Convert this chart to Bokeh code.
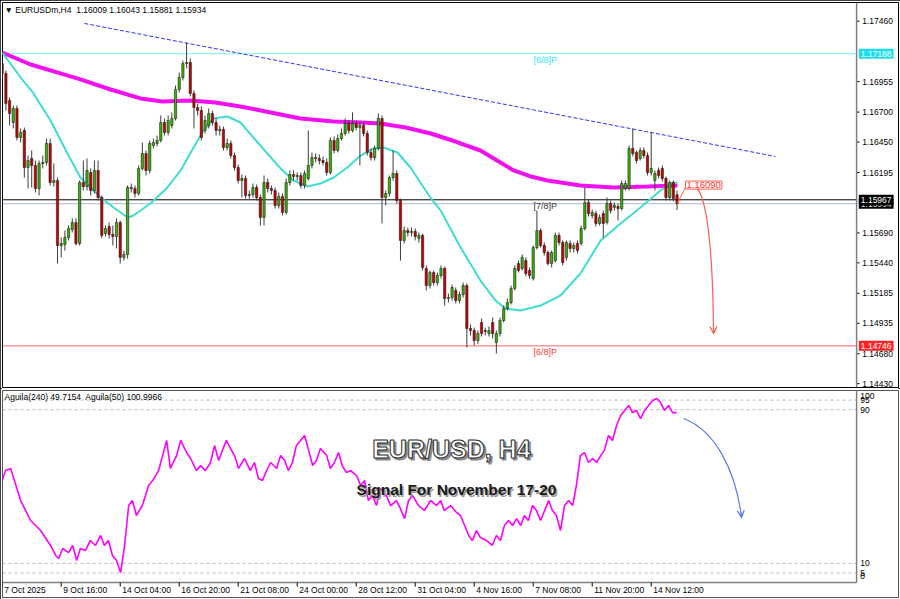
from bokeh.plotting import figure
from bokeh.layouts import column
from bokeh.models import (Range1d, Label, ColumnDataSource, Arrow, OpenHead, Span)
from bokeh.core.properties import value
from bokeh.embed import file_html
from bokeh.resources import INLINE

FONT = "Liberation Sans"

# ---------------- data ----------------
header_text = "\u25bc EURUSDm,H4\u00a0 1.16009 1.16043 1.15881 1.15934"
ind_header = "Aguila(240) 49.7154\u00a0 Aguila(50) 100.9966"

opens = [1.17106,1.17023,1.16797,1.16613,1.16730,1.16488,1.16546,1.16237,1.16312,1.16254,
         1.16061,1.16270,1.16279,1.16438,1.16112,1.16128,1.15585,1.15593,1.15652,1.15719,
         1.15777,1.15602,1.16112,1.16078,1.16195,1.16045,1.16212,1.15986,1.15685,1.15744,
         1.15677,1.15660,1.15777,1.15485,1.15510,1.16070,1.16061,1.16020,1.16229,1.16354,
         1.16212,1.16421,1.16438,1.16463,1.16613,1.16530,1.16588,1.16647,1.16889,1.16989,
         1.17106,1.17115,1.16856,1.16738,1.16713,1.16546,1.16588,1.16688,1.16613,1.16546,
         1.16555,1.16404,1.16438,1.16337,1.16237,1.16128,1.16145,1.16003,1.16011,1.16070,
         1.15986,1.15819,1.16112,1.16061,1.16045,1.15919,1.15994,1.15861,1.16112,1.16178,
         1.16162,1.16170,1.16087,1.16145,1.16254,1.16320,1.16312,1.16295,1.16279,1.16195,
         1.16463,1.16379,1.16479,1.16521,1.16605,1.16546,1.16605,1.16571,1.16588,1.16521,
         1.16362,1.16320,1.16396,1.16647,1.15986,1.16020,1.16153,1.16187,1.15961,1.15627,
         1.15710,1.15693,1.15702,1.15644,1.15669,1.15393,1.15250,1.15359,1.15275,1.15334,
         1.15393,1.15142,1.15150,1.15209,1.15125,1.15175,1.15250,1.14891,1.14874,1.14791,
         1.14941,1.14874,1.14849,1.14941,1.14774,1.14849,1.14958,1.15058,1.15108,1.15225,
         1.15434,1.15393,1.15459,1.15376,1.15309,1.15568,1.15710,1.15585,1.15526,1.15434,
         1.15459,1.15669,1.15610,1.15485,1.15602,1.15560,1.15602,1.15602,1.15727,1.15944,
         1.15836,1.15852,1.15769,1.15852,1.15777,1.15936,1.15903,1.15911,1.15894,1.16061,
         1.16061,1.16396,1.16362,1.16312,1.16379,1.16337,1.16195,1.16128,1.16212,1.16229,
         1.16145,1.15986,1.16112,1.16009]
highs = [1.17148,1.17048,1.16822,1.16755,1.16755,1.16563,1.16571,1.16337,1.16379,1.16295,
         1.16295,1.16337,1.16479,1.16479,1.16270,1.16153,1.15652,1.15710,1.15752,1.15811,
         1.15811,1.16128,1.16295,1.16312,1.16229,1.16295,1.16295,1.16003,1.15752,1.15777,
         1.15752,1.15811,1.15794,1.15543,1.16087,1.16103,1.16087,1.16254,1.16446,1.16379,
         1.16463,1.16479,1.16504,1.16672,1.16647,1.16672,1.16697,1.16922,1.17031,1.17131,
         1.17282,1.17148,1.16881,1.16772,1.16747,1.16672,1.16730,1.16713,1.16647,1.16588,
         1.16580,1.16479,1.16463,1.16362,1.16262,1.16178,1.16170,1.16045,1.16103,1.16095,
         1.16011,1.16170,1.16145,1.16087,1.16070,1.16028,1.16020,1.16145,1.16212,1.16212,
         1.16195,1.16195,1.16212,1.16546,1.16362,1.16354,1.16346,1.16329,1.16312,1.16488,
         1.16496,1.16513,1.16563,1.16647,1.16630,1.16697,1.16630,1.16613,1.16613,1.16546,
         1.16396,1.16421,1.16688,1.16672,1.16045,1.16170,1.16379,1.16212,1.15977,1.15744,
         1.15735,1.15735,1.15727,1.15693,1.15685,1.15418,1.15376,1.15376,1.15359,1.15418,
         1.15409,1.15184,1.15259,1.15234,1.15200,1.15275,1.15267,1.14924,1.14899,1.14874,
         1.14975,1.14899,1.14908,1.14983,1.14874,1.14983,1.15083,1.15142,1.15250,1.15418,
         1.15459,1.15510,1.15485,1.15401,1.15585,1.15877,1.15727,1.15610,1.15543,1.15543,
         1.15693,1.15693,1.15627,1.15627,1.15627,1.15610,1.15627,1.15752,1.16070,1.15969,
         1.15886,1.15877,1.15844,1.15877,1.15986,1.15961,1.15944,1.15936,1.16128,1.16128,
         1.16421,1.16563,1.16379,1.16404,1.16404,1.16362,1.16530,1.16212,1.16237,1.16254,
         1.16162,1.16128,1.16128,1.16043]
lows = [1.16964,1.16713,1.16588,1.16563,1.16463,1.16446,1.16153,1.16061,1.16070,1.16028,
        1.16003,1.16229,1.16254,1.16087,1.16078,1.15434,1.15485,1.15543,1.15627,1.15693,
        1.15585,1.15585,1.16045,1.16045,1.16003,1.16020,1.15961,1.15644,1.15660,1.15644,
        1.15585,1.15560,1.15434,1.15459,1.15476,1.16028,1.15986,1.16003,1.16212,1.16170,
        1.16187,1.16396,1.16412,1.16446,1.16504,1.16504,1.16563,1.16630,1.16864,1.16964,
        1.17065,1.16830,1.16563,1.16672,1.16463,1.16521,1.16563,1.16588,1.16504,1.16504,
        1.16379,1.16379,1.16312,1.16212,1.16103,1.15986,1.15977,1.15977,1.15986,1.15961,
        1.15752,1.15752,1.16028,1.16011,1.15894,1.15894,1.15836,1.15844,1.16087,1.16128,
        1.16128,1.16061,1.16061,1.16128,1.16229,1.16279,1.16262,1.16254,1.16170,1.16178,
        1.16354,1.16362,1.16463,1.16504,1.16521,1.16530,1.16546,1.16254,1.16496,1.16337,
        1.16295,1.16295,1.16379,1.15769,1.15919,1.15994,1.16128,1.15936,1.15459,1.15602,
        1.15660,1.15660,1.15627,1.15610,1.15376,1.15209,1.15225,1.15250,1.15250,1.15309,
        1.15083,1.15108,1.15125,1.15100,1.15100,1.15150,1.14732,1.14833,1.14749,1.14763,
        1.14824,1.14833,1.14824,1.14807,1.14682,1.14824,1.14941,1.15041,1.15092,1.15209,
        1.15359,1.15376,1.15326,1.15309,1.15292,1.15551,1.15568,1.15501,1.15418,1.15401,
        1.15443,1.15585,1.15418,1.15459,1.15526,1.15526,1.15518,1.15585,1.15710,1.15827,
        1.15811,1.15744,1.15752,1.15652,1.15760,1.15852,1.15877,1.15794,1.15877,1.16045,
        1.16045,1.16329,1.16270,1.16295,1.16312,1.16170,1.16170,1.16045,1.16145,1.16120,
        1.15961,1.15961,1.15953,1.15881]
closes = [1.17023,1.16772,1.16688,1.16730,1.16488,1.16530,1.16237,1.16295,1.16254,1.16061,
          1.16270,1.16279,1.16438,1.16112,1.16128,1.15585,1.15602,1.15652,1.15727,1.15777,
          1.15602,1.16112,1.16078,1.16212,1.16045,1.16212,1.15986,1.15669,1.15727,1.15677,
          1.15660,1.15777,1.15485,1.15510,1.16070,1.16061,1.16020,1.16229,1.16354,1.16212,
          1.16438,1.16446,1.16463,1.16613,1.16530,1.16630,1.16647,1.16889,1.16989,1.17106,
          1.17115,1.16856,1.16738,1.16713,1.16488,1.16630,1.16688,1.16613,1.16546,1.16555,
          1.16404,1.16438,1.16337,1.16237,1.16128,1.16145,1.16003,1.16011,1.16070,1.15986,
          1.15819,1.16112,1.16061,1.16045,1.15919,1.15994,1.15861,1.16112,1.16178,1.16162,
          1.16170,1.16087,1.16187,1.16254,1.16320,1.16312,1.16295,1.16279,1.16195,1.16463,
          1.16379,1.16479,1.16521,1.16605,1.16546,1.16605,1.16571,1.16588,1.16521,1.16362,
          1.16320,1.16396,1.16647,1.15986,1.16020,1.16153,1.16187,1.15961,1.15627,1.15710,
          1.15693,1.15702,1.15660,1.15669,1.15401,1.15250,1.15359,1.15275,1.15334,1.15393,
          1.15142,1.15150,1.15234,1.15125,1.15175,1.15250,1.14891,1.14874,1.14791,1.14849,
          1.14849,1.14866,1.14874,1.14849,1.14849,1.14958,1.15058,1.15108,1.15225,1.15393,
          1.15376,1.15485,1.15351,1.15334,1.15568,1.15710,1.15585,1.15526,1.15434,1.15526,
          1.15669,1.15610,1.15443,1.15610,1.15560,1.15585,1.15543,1.15727,1.15944,1.15852,
          1.15861,1.15769,1.15819,1.15769,1.15936,1.15877,1.15919,1.15894,1.16103,1.16103,
          1.16396,1.16354,1.16295,1.16379,1.16337,1.16195,1.16229,1.16187,1.16170,1.16145,
          1.15986,1.16112,1.15977,1.15934]

ma_slow_idx = [0, 7.7, 15.8, 21.2, 29.4, 37.5, 43.4, 51.1, 57.8, 64.6, 72.8, 80.9, 89.9, 97.2,
               102.6, 109.4, 116.2, 122.9, 129.7, 135.1, 138.7, 143.3, 147.9, 156.8, 165.8, 175, 183.1]
ma_slow_val = [1.17198, 1.17098, 1.17023, 1.16973, 1.16889, 1.16814, 1.16789, 1.16797, 1.16780,
               1.16747, 1.16697, 1.16647, 1.16622, 1.16613, 1.16605, 1.16571, 1.16521, 1.16454,
               1.16379, 1.16279, 1.16212, 1.16162, 1.16128, 1.16087, 1.16070, 1.16078, 1.16087]
ma_fast_idx = [0, 5, 8.5, 13.1, 17.7, 21.2, 26.7, 30.2, 34, 35.6, 40.2, 44.8, 48.4, 51.9, 54.6, 57.3,
               61.1, 64.6, 68.1, 71.9, 75.5, 79, 82.8, 86.3, 89.9, 93.6, 97.2, 100.7, 103.4, 107.2,
               110.7, 114.3, 116.1, 118.9, 124.3, 129.7, 133.8, 136.5, 140.6, 146, 151.4, 156.8,
               162.3, 167.7, 173.1, 178.5, 181.2, 183.1]
ma_fast_val = [1.17198, 1.16989, 1.16856, 1.16630, 1.16354, 1.16153, 1.15986, 1.15903, 1.15819,
               1.15836, 1.15936, 1.16070, 1.16212, 1.16404, 1.16546, 1.16647, 1.16663, 1.16613,
               1.16488, 1.16354, 1.16229, 1.16128, 1.16078, 1.16103, 1.16153, 1.16237, 1.16337,
               1.16396, 1.16404, 1.16362, 1.16237, 1.16070, 1.15986, 1.15877, 1.15568, 1.15292,
               1.15125, 1.15058, 1.15041, 1.15083, 1.15167, 1.15351, 1.15627, 1.15769, 1.15903,
               1.16045, 1.16103, 1.16112]

trend_idx = [22.3, 209.7]
trend_val = [1.17441, 1.16329]

murrey_levels = [1.17188, 1.15967, 1.14746]
murrey_names = ["[8/8]P", "[7/8]P", "[6/8]P"]
murrey_text_colors = ["#33e6f0", "#333333", "#ff3b3b"]
murrey_line_colors = ["#7ff4f8", "#000000", "#ff6666"]
murrey_box_colors = ["#1fdcec", "#000000", "#ff2222"]
murrey_label_idx = 144.1
bid_price = 1.15934

price_ticks = [1.17460, 1.16955, 1.16700, 1.16450, 1.16195, 1.15690, 1.15440,
               1.15185, 1.14935, 1.14680, 1.14430]
price_tick_labels = ["1.17460", "1.16955", "1.16700", "1.16450", "1.16195", "1.15690",
                     "1.15440", "1.15185", "1.14935", "1.14680", "1.14430"]

time_tick_idx = [0, 16, 32, 48, 64, 80, 96, 112, 128, 144, 160, 176]
time_tick_labels = ["7 Oct 2025", "9 Oct 16:00", "14 Oct 04:00", "16 Oct 20:00",
                    "21 Oct 08:00", "24 Oct 00:00", "28 Oct 12:00", "31 Oct 04:00",
                    "4 Nov 16:00", "7 Nov 08:00", "11 Nov 20:00", "14 Nov 12:00"]

target_price = 1.16090
fc_link_idx = [183, 185.3]
fc_link_val = [1.15934, 1.16070]
fc_curve = dict(x0=[186.1], y0=[1.16061], cx0=[188.3], cy0=[1.16145],
                cx1=[192.6], cy1=[1.16045], x1=[192.9], y1=[1.14849])

ind_idx = [0, 0.9, 2.3, 5, 7.7, 10.4, 13.1, 14.5, 15.3, 16.4, 18, 19.1, 20.2, 21.2, 22.6, 23.9,
           25.3, 26.7, 27.7, 28.8, 29.9, 31, 32.1, 33.2, 34.3, 35.3, 36.4, 38, 39.7, 40.8, 42.4,
           43.5, 44.6, 45.6, 47.3, 48.4, 50, 51.1, 52.7, 53.8, 55.1, 56.5, 57.6, 58.7, 59.7,
           60.8, 61.9, 63, 64.1, 65.7, 67.3, 68.4, 69.5, 70.6, 71.7, 72.8, 74.4, 75.5, 76.6,
           77.6, 78.7, 79.8, 80.9, 82, 83.1, 84.2, 85.2, 86.3, 88, 89, 90.1, 91.2, 92.3, 93.4,
           94.5, 96.1, 97.2, 98.3, 99.3, 100.4, 101.5, 102.6, 104.2, 105.3, 106.9, 108, 109.1,
           110.2, 111.3, 112.9, 114.5, 116.2, 117.8, 118.9, 119.9, 121.6, 123.2, 124.3, 125.4,
           126.5, 127.5, 128.6, 129.7, 131.3, 132.9, 134, 135.1, 136.2, 137.3, 138.4, 139.5,
           140.6, 141.6, 142.7, 143.8, 144.9, 146, 147.1, 148.2, 149.2, 150.3, 151.4, 152.5,
           153.6, 154.7, 155.7, 156.8, 157.9, 159, 160.1, 161.2, 162.3, 163.3, 164.4, 165.5,
           166.6, 167.7, 168.8, 169.9, 170.9, 172, 173.1, 174.2, 175.3, 176.4, 177.5, 178.5,
           179.6, 180.7, 181.8, 182.9]
ind_val = [53.1, 58.3, 59.4, 42.7, 32.3, 27.1, 19.3, 14.1, 12.5, 17.7, 15.6, 19.3, 11.5, 17.7,
           16.7, 21.9, 19.3, 24.5, 19.3, 21.9, 14.1, 11.5, 5.2, 19.3, 40.1, 42.7, 34.9, 40.1,
           50.5, 53.1, 58.3, 66.1, 74.0, 59.4, 66.1, 74.0, 67.7, 64.6, 58.3, 60.9, 58.3, 62.5,
           71.4, 63.5, 68.8, 74.0, 69.8, 66.1, 59.4, 64.6, 58.3, 62.5, 54.2, 53.1, 58.3, 62.5,
           59.4, 66.1, 63.5, 58.3, 62.5, 71.4, 74.0, 76.6, 68.8, 60.9, 63.5, 69.8, 66.1, 59.4,
           62.5, 67.7, 60.4, 57.3, 58.3, 55.7, 50.5, 53.1, 42.7, 45.3, 40.1, 49.0, 45.3, 40.1,
           42.7, 38.5, 33.3, 42.7, 45.3, 40.1, 37.5, 42.7, 40.1, 42.7, 37.5, 40.1, 36.5, 34.9,
           29.7, 24.5, 21.9, 27.1, 23.4, 21.9, 19.3, 24.5, 21.9, 29.7, 32.3, 29.7, 33.3, 29.7,
           34.9, 32.3, 40.1, 37.5, 32.3, 37.5, 42.7, 37.5, 34.9, 27.1, 40.1, 42.7, 40.1, 50.5,
           66.1, 67.7, 62.5, 64.6, 62.5, 66.1, 68.8, 76.6, 74.0, 81.8, 87.0, 89.6, 92.2, 88.5,
           89.6, 85.4, 89.6, 92.2, 94.8, 95.8, 93.8, 89.6, 92.2, 88.5, 88.5]
ind_levels = [95, 90, 10, 5]
ind_tick_vals = [100, 95, 90, 10, 5, 0]
ind_tick_pos = [96.9, 95, 90, 10, 5, 3.6]
ind_curve = dict(x0=[184.8], y0=[85.4], cx0=[193.4], cy0=[79.2],
                 cx1=[198.9], cy1=[58.3], x1=[200.5], y1=[33.9])

# ---------------- layout constants ----------------
X0, X1 = 0.08, 243.06        # bar-index span of the full plot width
AXIS = 231.7                 # bar index where the price scale starts
XR = Range1d(X0, X1)
W = 900

# ---------------- main price panel ----------------
p1 = figure(width=W, height=388, x_range=XR, y_range=Range1d(1.14398, 1.17616),
            output_backend="svg", toolbar_location=None, x_axis_location=None,
            y_axis_location=None, min_border_left=2, min_border_right=2,
            min_border_top=2, min_border_bottom=1)
p1.grid.visible = False
p1.outline_line_color = "#000000"
p1.background_fill_color = "white"
p1.border_fill_color = "white"

for lvl, col in zip(murrey_levels, murrey_line_colors):
    p1.segment(x0=[X0], y0=[lvl], x1=[AXIS], y1=[lvl], line_color=col, line_width=1)
p1.segment(x0=[X0], y0=[bid_price], x1=[AXIS], y1=[bid_price], line_color="#a9b8c8", line_width=1)

p1.line(ma_slow_idx, ma_slow_val, line_color="#f010f0", line_width=4)
p1.line(ma_fast_idx, ma_fast_val, line_color="#3fdcd0", line_width=2)

p1.line(trend_idx, trend_val, line_color="#3030ff", line_width=1, line_dash="4 2")

n = len(closes)
up = [c >= o for o, c in zip(opens, closes)]
src = ColumnDataSource(dict(
    x=list(range(n)), h=highs, l=lows,
    top=[max(o, c) for o, c in zip(opens, closes)],
    bot=[min(o, c) for o, c in zip(opens, closes)],
    col=["#35b800" if u else "#c80000" for u in up]))
p1.segment(x0="x", y0="l", x1="x", y1="h", source=src, line_color="#3c3c3c", line_width=1)
p1.vbar(x="x", width=0.62, top="top", bottom="bot", source=src,
        fill_color="col", line_color="#202020", line_width=0.6)

for lvl, name, col in zip(murrey_levels, murrey_names, murrey_text_colors):
    p1.add_layout(Label(x=murrey_label_idx, y=lvl, text=name, text_color=col,
                        text_font=FONT, text_font_size="9px", text_baseline="top",
                        y_offset=-1))

FC = "#ff5a4a"
p1.line(fc_link_idx, fc_link_val, line_color=FC, line_width=1)
p1.bezier(source=ColumnDataSource(fc_curve), x0="x0", y0="y0", x1="x1", y1="y1",
          cx0="cx0", cy0="cy0", cx1="cx1", cy1="cy1", line_color=FC, line_width=1.2)
p1.add_layout(Arrow(end=OpenHead(size=7, line_color=FC, line_width=1.2),
                    x_start=fc_curve["x1"][0] - 0.02, y_start=fc_curve["y1"][0] + 0.0004,
                    x_end=fc_curve["x1"][0], y_end=fc_curve["y1"][0],
                    line_color=FC, line_width=1.2))
p1.add_layout(Label(x=fc_link_idx[1], y=target_price, text=f"{target_price:.5f}",
                    text_color="#ff3030", text_font=FONT, text_font_size="9.5px",
                    text_baseline="middle", background_fill_color="white",
                    border_line_color=FC, border_line_width=1, padding=1))

p1.add_layout(Label(x=2, y=378, x_units="screen", y_units="screen", text=header_text,
                    text_font=FONT, text_font_size="8.5px", text_color="#000000",
                    text_baseline="middle"))

# price scale
p1.add_layout(Span(location=AXIS, dimension="height", line_color="#808080", line_width=1.5))
p1.segment(x0=[AXIS] * len(price_ticks), y0=price_ticks, x1=[AXIS + 0.8] * len(price_ticks),
           y1=price_ticks, line_color="#000000", line_width=1)
p1.text(x=[AXIS + 1.5] * len(price_ticks), y=price_ticks, text=price_tick_labels,
        text_font=value(FONT), text_font_size="8.5px", text_color="#000000",
        text_baseline="middle")
p1.add_layout(Label(x=AXIS + 0.6, y=bid_price, text=f"{bid_price:.5f}",
                    text_font=FONT, text_font_size="8.5px", text_color="#c8c8c8",
                    text_baseline="middle", background_fill_color="#000000", padding=2))
for lvl, bg in zip(murrey_levels, murrey_box_colors):
    p1.add_layout(Label(x=AXIS + 0.6, y=lvl, text=f"{lvl:.5f}",
                        text_font=FONT, text_font_size="8.5px", text_color="#ffffff",
                        text_baseline="middle", background_fill_color=bg, padding=2))

# ---------------- indicator panel ----------------
p2 = figure(width=W, height=211, x_range=XR, y_range=Range1d(-7.8, 100),
            output_backend="svg", toolbar_location=None, x_axis_location=None,
            y_axis_location=None, min_border_left=2, min_border_right=2,
            min_border_top=2, min_border_bottom=2)
p2.grid.visible = False
p2.outline_line_color = "#555555"
p2.background_fill_color = "white"
p2.border_fill_color = "white"

for lv in ind_levels:
    p2.segment(x0=[X0], y0=[lv], x1=[AXIS], y1=[lv], line_color="#b8b8b8",
               line_width=1, line_dash="3 3")

p2.line(ind_idx, ind_val, line_color="#ff00ff", line_width=1.6)

IC = "#5a78e6"
p2.bezier(source=ColumnDataSource(ind_curve), x0="x0", y0="y0", x1="x1", y1="y1",
          cx0="cx0", cy0="cy0", cx1="cx1", cy1="cy1", line_color=IC, line_width=1.2)
p2.add_layout(Arrow(end=OpenHead(size=7, line_color=IC, line_width=1.2),
                    x_start=ind_curve["x1"][0] - 0.15, y_start=ind_curve["y1"][0] + 2.5,
                    x_end=ind_curve["x1"][0], y_end=ind_curve["y1"][0],
                    line_color=IC, line_width=1.2))

p2.add_layout(Label(x=2, y=96.4, x_units="screen", text=ind_header, text_font=FONT,
                    text_font_size="8.5px", text_color="#000000", text_baseline="middle"))

p2.segment(x0=[AXIS], y0=[0], x1=[AXIS], y1=[100], line_color="#808080", line_width=1.5)
p2.text(x=[AXIS + 1.0] * len(ind_tick_vals), y=ind_tick_pos,
        text=[str(v) for v in ind_tick_vals], text_font=value(FONT),
        text_font_size="8.5px", text_color="#000000", text_baseline="middle")

p2.segment(x0=[X0], y0=[0], x1=[AXIS], y1=[0], line_color="#808080", line_width=1.5)
p2.segment(x0=time_tick_idx, y0=[0] * len(time_tick_idx), x1=time_tick_idx,
           y1=[-2.1] * len(time_tick_idx), line_color="#000000", line_width=1)
p2.text(x=time_tick_idx, y=[-1.2] * len(time_tick_idx), text=time_tick_labels,
        x_offset=2, text_font=value(FONT), text_font_size="8.5px",
        text_color="#000000", text_baseline="top")

for dx, dy, col, oc in [(2, -2, "#8a8a8a", "#8a8a8a"), (0, 0, "#ffffff", "#2a2a2a")]:
    p2.add_layout(Label(x=121.8, y=69.3, x_offset=dx, y_offset=dy, text="EUR/USD, H4",
                        text_font=FONT, text_font_size="25px", text_font_style="bold",
                        text_color=col, text_outline_color=oc,
                        text_align="center", text_baseline="middle"))
for dx, dy, col in [(1.5, -1.5, "#9a9a9a"), (0, 0, "#1a1a1a")]:
    p2.add_layout(Label(x=123.2, y=48.4, x_offset=dx, y_offset=dy,
                        text="Signal For November 17-20", text_font=FONT,
                        text_font_size="15.5px", text_font_style="bold", text_color=col,
                        text_align="center", text_baseline="middle"))

layout = column(p1, p2, spacing=0,
                styles={"outline": "2px solid #000000", "outline-offset": "-2px"})
open("out.html", "w").write(file_html(layout, INLINE))
